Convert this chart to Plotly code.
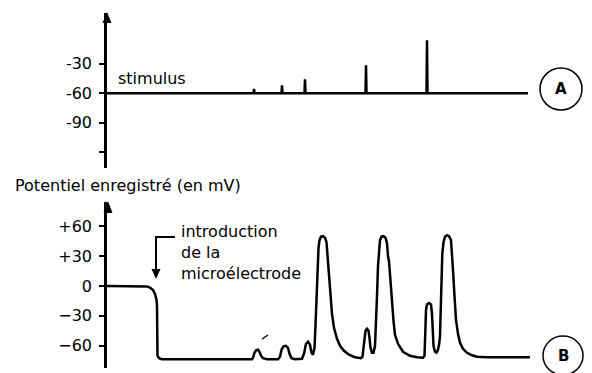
import plotly.graph_objects as go

W, H = 592, 373

# ---- Trace A: stimulus record (mV) ----
stim_baseline = -60
stim_times = [147, 175, 198, 259, 320]          # time of each stimulus artefact
stim_peaks = [-55.6, -51.9, -45.8, -31.6, -6.3]  # top of each artefact (mV)
stim_end = 421

# ---- Trace B: recorded membrane potential (mV) ----
rec_t = [0, 36, 40, 43, 46, 48, 49.5, 50, 50, 50.5, 52, 55, 145,
         146, 147.5, 149, 151, 152.5, 154, 156, 160, 171,
         173, 174.5, 176.5, 179, 181, 182.5, 184.5, 188, 195,
         197, 199, 201, 203, 204.5, 206,
         207.5, 208.5, 209.5, 210.5, 211.5, 212.5, 214, 216, 218, 219.5, 220.5,
         221.5, 223, 225, 227, 230, 233, 237, 242, 248, 254,
         255.5, 256.5, 257.5, 258.5, 260, 261.5, 262.5, 263.5, 265, 266.5,
         268, 269, 270, 271, 272, 273, 274.5, 276.5, 278.5, 280, 281,
         282, 283.5, 285, 286.5, 288, 291, 296, 303, 310, 316,
         317.5, 318, 318.5, 319, 320, 322, 324, 325, 325.5, 326.5, 328, 329.5,
         331, 332.2, 333, 333.8, 334.5, 335.3, 336.5, 338, 340, 342, 344, 345,
         346, 347.5, 349, 351, 353, 356, 360, 365, 370, 380, 423]
rec_mv = [0, 0, -0.5, -1.5, -4, -8, -14, -20, -66, -70, -72.5, -73.5, -73.5,
          -72, -67, -64.5, -64, -66, -70, -72.5, -73.5, -73.5,
          -71, -64, -60.5, -60, -62, -68, -72.5, -73.5, -73,
          -68, -58, -56, -59, -67, -69,
          -62, -40, -10, 20, 38, 46, 49.5, 50, 48.5, 44, 30,
          12, -8, -28, -42, -53, -60, -65, -69, -71.5, -72.5,
          -71, -62, -50, -45, -43, -45, -52, -62, -67, -67,
          -60, -40, -10, 20, 38, 46, 49.5, 50, 48.5, 43, 30,
          25, 5, -17, -35, -49, -58, -66, -70, -71.5, -72,
          -70, -60, -40, -24, -18.5, -17, -18.5, -28, -45, -60, -66, -67,
          -64, -58, -50, -20, 10, 32, 44, 49.5, 51, 50, 46, 35,
          16, -10, -34, -48, -57, -63, -67, -69.5, -71, -71.5, -71.5]

# Build the stimulus trace: flat baseline with a thin artefact at each stimulus
stim_x, stim_y = [0], [stim_baseline]
for t, p in zip(stim_times, stim_peaks):
    stim_x += [t - 0.5, t, t + 0.5]
    stim_y += [stim_baseline, p, stim_baseline]
stim_x.append(stim_end)
stim_y.append(stim_baseline)


def px(p):
    return p / W


def py(p):
    return 1 - p / H


FONT = "DejaVu Sans"
INK = "black"

fig = go.Figure()
fig.add_trace(go.Scatter(x=stim_x, y=stim_y, mode="lines",
                         line=dict(color=INK, width=2.5),
                         xaxis="x", yaxis="y", hoverinfo="skip"))
fig.add_trace(go.Scatter(x=rec_t, y=rec_mv, mode="lines",
                         line=dict(color=INK, width=2.5),
                         xaxis="x2", yaxis="y2", hoverinfo="skip"))

yax_common = dict(showline=True, linecolor=INK, linewidth=2.5,
                  ticks="outside", ticklen=5, tickwidth=2, tickcolor=INK,
                  showgrid=False, zeroline=False,
                  tickfont=dict(family=FONT, size=16, color=INK),
                  ticklabelstandoff=4)

fig.update_layout(
    width=W, height=H,
    margin=dict(l=0, r=0, t=0, b=0),
    paper_bgcolor="white", plot_bgcolor="white",
    showlegend=False,
    xaxis=dict(domain=[px(107), px(530)], range=[0, 423], visible=False,
               anchor="y"),
    xaxis2=dict(domain=[px(107), px(530)], range=[0, 423], visible=False,
                anchor="y2"),
    yaxis=dict(domain=[py(168), py(13)], range=[-135.8, 21.3],
               tickvals=[-30, -60, -90, -120],
               ticktext=["-30", "-60", "-90", ""],
               anchor="x", **yax_common),
    yaxis2=dict(domain=[py(368), py(202)], range=[-82.3, 84.3],
                tickvals=[60, 30, 0, -30, -60],
                ticktext=["+60", "+30", "0", "−30", "−60"],
                anchor="x2", **yax_common),
)


def tri(tip_x, tip_y, half_w, length, down=False):
    s = 1 if down else -1
    base_y = tip_y - s * length
    return (f"M {px(tip_x)},{py(tip_y)} L {px(tip_x - half_w)},{py(base_y)} "
            f"L {px(tip_x + half_w)},{py(base_y)} Z")


shapes = [
    # arrowheads on the two potential axes
    dict(type="path", xref="paper", yref="paper",
         path=tri(107, 12, 4.5, 11), fillcolor=INK, line=dict(width=0)),
    dict(type="path", xref="paper", yref="paper",
         path=tri(108, 201, 4.5, 12), fillcolor=INK, line=dict(width=0)),
    # elbow arrow marking the electrode insertion
    dict(type="path", xref="paper", yref="paper",
         path=f"M {px(175)},{py(237)} L {px(156)},{py(237)} L {px(156)},{py(270)}",
         line=dict(color=INK, width=2)),
    dict(type="path", xref="paper", yref="paper",
         path=tri(156, 279, 4.5, 10, down=True), fillcolor=INK,
         line=dict(width=0)),
    # small stroke above the first oscillations
    dict(type="line", xref="paper", yref="paper",
         x0=px(262), y0=py(339), x1=px(268), y1=py(335),
         line=dict(color=INK, width=1.5)),
    # panel labels
    dict(type="circle", xref="paper", yref="paper",
         x0=px(540), x1=px(582), y0=py(110), y1=py(68),
         line=dict(color=INK, width=1.5)),
    dict(type="circle", xref="paper", yref="paper",
         x0=px(543), x1=px(583), y0=py(375), y1=py(336),
         line=dict(color=INK, width=1.5)),
]

annotations = [
    dict(text="stimulus", x=px(116), y=py(78), xref="paper", yref="paper",
         xanchor="left", yanchor="middle", showarrow=False,
         font=dict(family=FONT, size=16, color=INK)),
    dict(text="Potentiel enregistré (en mV)", x=px(13), y=py(185),
         xref="paper", yref="paper", xanchor="left", yanchor="middle",
         showarrow=False, font=dict(family=FONT, size=16, color=INK)),
    dict(text="introduction<br>de la<br>microélectrode", x=px(179), y=py(252),
         xref="paper", yref="paper", xanchor="left", yanchor="middle",
         align="left", showarrow=False,
         font=dict(family=FONT, size=16, color=INK)),
    dict(text="<b>A</b>", x=px(561), y=py(89), xref="paper", yref="paper",
         xanchor="center", yanchor="middle", showarrow=False,
         font=dict(family=FONT, size=15, color=INK)),
    dict(text="<b>B</b>", x=px(563), y=py(356), xref="paper", yref="paper",
         xanchor="center", yanchor="middle", showarrow=False,
         font=dict(family=FONT, size=15, color=INK)),
]

fig.update_layout(shapes=shapes, annotations=annotations)
fig.write_html("out.html")
